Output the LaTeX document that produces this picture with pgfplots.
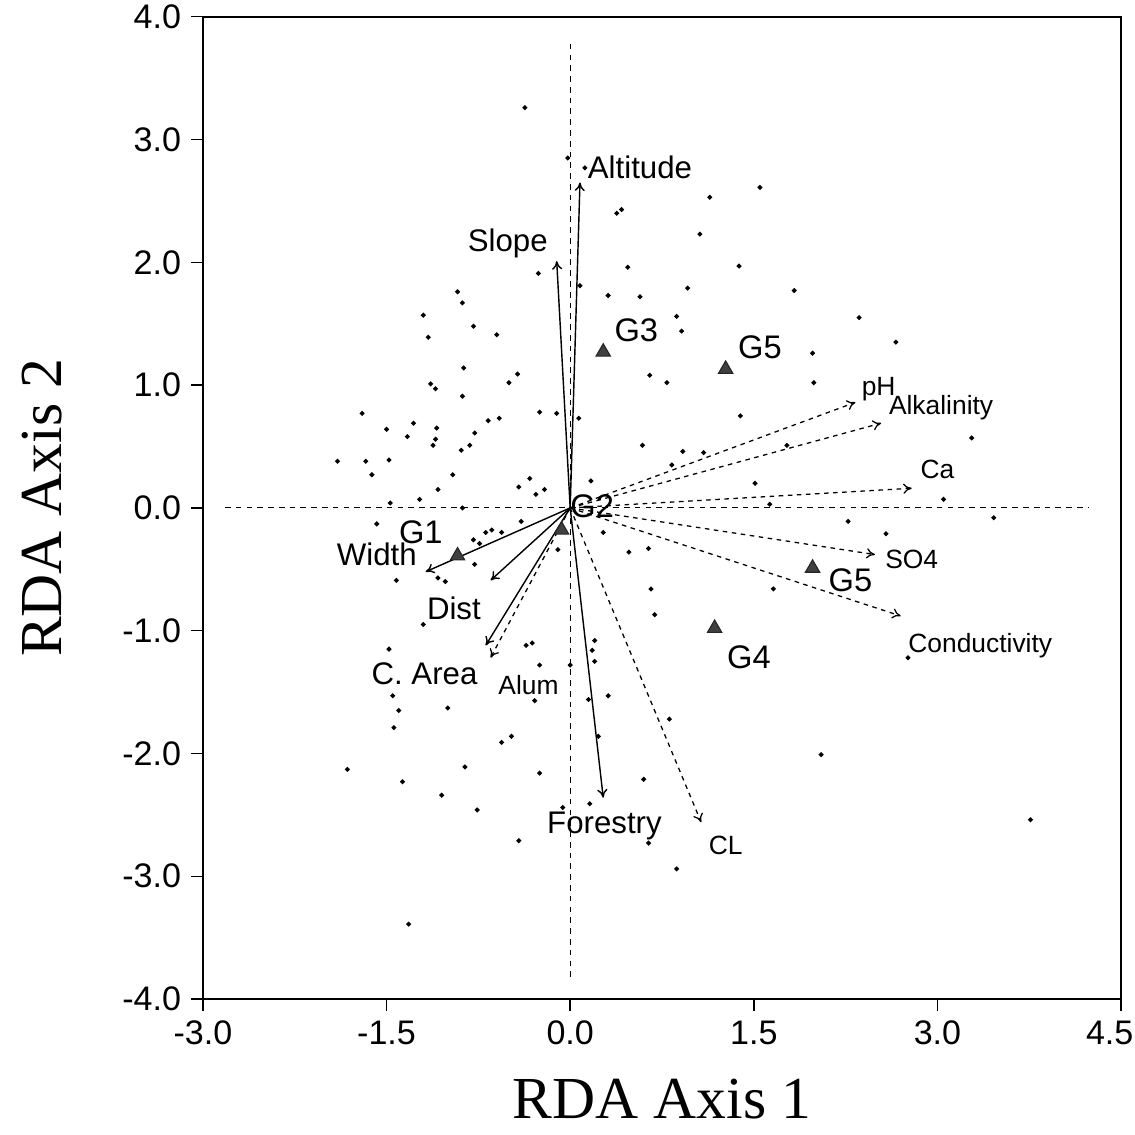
\documentclass[border=0pt]{standalone}
\usepackage{fontspec}
\setmainfont{Liberation Sans}
\newfontfamily\seriff{Liberation Serif}
\usepackage{pgfplots}
\pgfplotsset{compat=1.18}
\usetikzlibrary{arrows.meta}

\pgfplotstableread{
X Y
-0.26 1.91
-0.92 1.76
-0.88 1.67
-1.20 1.57
-1.16 1.39
-0.79 1.48
-0.60 1.41
-0.87 1.14
-0.43 1.09
-0.50 1.02
-1.14 1.01
-1.10 0.97
-0.88 0.91
-1.70 0.77
-0.25 0.78
-0.11 0.77
0.07 0.73
-0.58 0.73
-0.67 0.71
-1.28 0.69
-1.50 0.64
-1.09 0.65
-1.33 0.58
-1.10 0.56
-0.78 0.61
-1.12 0.51
-0.82 0.51
-0.89 0.47
-1.90 0.38
-1.67 0.38
-1.48 0.39
-1.62 0.27
-0.96 0.27
-0.33 0.24
-0.42 0.17
-0.21 0.15
-0.28 0.11
0.17 0.22
-1.08 0.15
-1.23 0.07
-1.47 0.04
-0.88 0.00
-0.40 -0.11
-1.58 -0.13
-0.64 -0.18
-0.69 -0.20
-0.56 -0.20
-0.79 -0.26
-0.74 -0.29
-0.78 -0.46
-1.42 -0.59
-1.08 -0.57
-1.02 -0.60
-1.20 -0.95
-1.48 -1.15
-0.36 -1.12
-0.31 -1.10
-0.25 -1.28
-0.10 -0.34
0.27 -0.20
0.20 -1.08
0.18 -1.16
0.20 -1.25
0.31 -1.53
0.15 -1.56
-0.29 -1.57
-1.45 -1.53
-1.40 -1.65
-1.00 -1.63
-1.44 -1.79
-0.48 -1.86
-0.56 -1.91
-1.82 -2.13
-1.37 -2.23
-0.86 -2.11
-1.05 -2.34
-0.25 -2.16
-0.76 -2.46
-0.06 -2.44
-0.42 -2.71
-1.32 -3.39
0.00 -1.28
-0.37 3.26
-0.02 2.85
0.12 2.77
1.55 2.61
1.14 2.53
0.38 2.40
0.42 2.43
1.06 2.23
0.47 1.96
1.38 1.97
0.08 1.81
0.31 1.73
0.57 1.72
0.96 1.79
1.83 1.77
0.87 1.56
0.91 1.44
1.98 1.26
0.65 1.08
0.79 1.02
1.99 1.02
1.39 0.75
2.36 1.55
2.66 1.35
3.28 0.57
0.59 0.51
0.92 0.46
1.09 0.45
0.83 0.35
1.77 0.51
1.51 0.20
3.05 0.07
1.63 0.03
2.27 -0.11
3.46 -0.08
2.58 -0.21
0.48 -0.36
0.64 -0.33
0.66 -0.66
1.66 -0.66
0.69 -0.87
2.76 -1.22
2.05 -2.01
3.76 -2.54
0.23 -1.86
0.81 -1.72
0.60 -2.21
0.16 -2.41
0.64 -2.73
0.87 -2.94
}\sites

\pgfplotstableread{
X Y
-0.92 -0.39
-0.07 -0.18
0.27 1.27
1.27 1.13
1.98 -0.49
1.18 -0.98
}\groups

\begin{document}
\begin{tikzpicture}
\useasboundingbox (-71.5pt,-47.9pt) rectangle (328.4pt,352.0pt);
\begin{axis}[
  scale only axis, width=323.5pt, height=346.1pt,
  xmin=-3, xmax=4.5, ymin=-4, ymax=4,
  xtick={-3,-1.5,0,1.5,3,4.5},
  xticklabels={-3.0,-1.5,0.0,1.5,3.0,4.5\hspace*{8pt}},
  ytick={-4,-3,-2,-1,0,1,2,3,4},
  yticklabels={-4.0,-3.0,-2.0,-1.0,0.0,1.0,2.0,3.0,4.0},
  tick pos=left, tick align=outside, major tick length=4.2pt,
  tick style={black, line width=0.5pt},
  ticklabel style={font=\fontsize{12}{14}\selectfont},
  axis line style={line width=0.7pt},
  xlabel={RDA Axis 1}, ylabel={RDA Axis 2},
  label style={font=\seriff\fontsize{21}{24}\selectfont},
  xlabel style={at={(axis description cs:0.5,-0.102)}, anchor=center},
  ylabel style={at={(axis description cs:-0.175,0.5)}, anchor=center},
  clip=false,
]
% dashed cross
\addplot[black, line width=0.4pt, dash pattern=on 2pt off 1.8pt, mark=none] coordinates {(-2.82,0) (4.23,0)};
\addplot[black, line width=0.4pt, dash pattern=on 2pt off 1.8pt, mark=none] coordinates {(0,3.78) (0,-3.83)};

% site scores
\addplot[only marks, mark=*, mark size=0.65pt, black] table {\sites};

% solid arrows
\addplot[black, line width=0.5pt, mark=none, -{To[length=3pt,width=3.6pt]}] coordinates {(0,0) (0.08,2.65)};
\addplot[black, line width=0.5pt, mark=none, -{To[length=3pt,width=3.6pt]}] coordinates {(0,0) (-0.11,2.01)};
\addplot[black, line width=0.5pt, mark=none, -{To[length=3pt,width=3.6pt]}] coordinates {(0,0) (-1.18,-0.52)};
\addplot[black, line width=0.5pt, mark=none, -{To[length=3pt,width=3.6pt]}] coordinates {(0,0) (-0.65,-0.59)};
\addplot[black, line width=0.5pt, mark=none, -{To[length=3pt,width=3.6pt]}] coordinates {(0,0) (-0.69,-1.12)};
\addplot[black, line width=0.5pt, mark=none, -{To[length=3pt,width=3.6pt]}] coordinates {(0,0) (0.27,-2.36)};

% dashed arrows
\pgfplotsset{darrow/.style={black, line width=0.45pt, mark=none, dash pattern=on 1.6pt off 1.6pt, -{To[length=3pt,width=3.6pt]}}}
\addplot[darrow] coordinates {(0,0) (2.33,0.86)};
\addplot[darrow] coordinates {(0,0) (2.54,0.69)};
\addplot[darrow] coordinates {(0,0) (2.79,0.16)};
\addplot[darrow] coordinates {(0,0) (2.49,-0.38)};
\addplot[darrow] coordinates {(0,0) (2.70,-0.88)};
\addplot[darrow] coordinates {(0,0) (1.07,-2.56)};
\addplot[darrow] coordinates {(0,0) (-0.65,-1.22)};

% group centroids
\addplot[only marks, mark=triangle*, mark size=2.9pt, black!85, mark options={fill=black!75}] table {\groups};

% labels
\begin{scope}[every node/.style={inner sep=0pt, font=\fontsize{11}{13}\selectfont}]
\node at (axis cs:0.57,2.77) {Altitude};
\node at (axis cs:-0.51,2.15) {Slope};
\node at (axis cs:-1.58,-0.38) {Width};
\node at (axis cs:-0.95,-0.82) {Dist};
\node at (axis cs:-1.19,-1.35) {C. Area};
\node at (axis cs:0.28,-2.59) {Forestry};
\end{scope}
\begin{scope}[every node/.style={inner sep=0pt, font=\fontsize{11.5}{13}\selectfont}]
\node at (axis cs:-1.22,-0.20) {G1};
\node at (axis cs:0.18,0.01) {G2};
\node at (axis cs:0.54,1.45) {G3};
\node at (axis cs:1.55,1.31) {G5};
\node at (axis cs:2.29,-0.59) {G5};
\node at (axis cs:1.46,-1.22) {G4};
\end{scope}
\begin{scope}[every node/.style={inner sep=0pt, font=\fontsize{9.3}{11}\selectfont}]
\node at (axis cs:2.52,0.97) {pH};
\node at (axis cs:3.03,0.82) {Alkalinity};
\node at (axis cs:3.0,0.31) {Ca};
\node at (axis cs:2.79,-0.42) {SO4};
\node at (axis cs:3.35,-1.12) {Conductivity};
\node at (axis cs:1.27,-2.75) {CL};
\node at (axis cs:-0.34,-1.44) {Alum};
\end{scope}
\end{axis}
\end{tikzpicture}
\end{document}
